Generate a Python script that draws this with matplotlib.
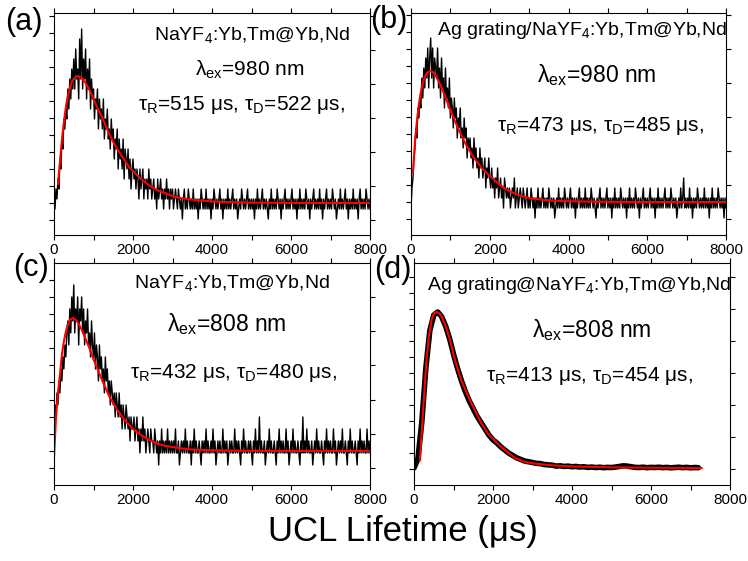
import numpy as np
import matplotlib
matplotlib.use('Agg')
import matplotlib.pyplot as plt
from matplotlib.ticker import MultipleLocator

plt.rcParams['font.family'] = ['Liberation Sans', 'DejaVu Sans']
plt.rcParams['mathtext.fontset'] = 'custom'
plt.rcParams['mathtext.rm'] = 'Liberation Sans'
plt.rcParams['mathtext.default'] = 'regular'

# photon counts, one bin every 25 us from 0 to 8000 us
dt = 25
counts_a = [3, 2, 4, 3, 5, 4, 7, 6, 9, 8, 11, 10, 12, 11, 14, 12, 15, 13, 16, 14,
            17, 14, 18, 15, 16, 13, 19, 15, 20, 14, 17, 15, 18, 13, 16, 14, 17, 12, 15, 13,
            14, 11, 13, 12, 14, 10, 13, 11, 12, 10, 13, 9, 11, 10, 12, 9, 10, 8, 11, 9,
            10, 7, 9, 8, 10, 6, 9, 7, 8, 6, 9, 5, 8, 7, 6, 8, 5, 7, 4, 6,
            7, 5, 6, 4, 6, 5, 3, 6, 4, 5, 6, 3, 5, 4, 5, 3, 6, 4, 5, 3,
            4, 5, 3, 4, 2, 5, 3, 4, 5, 3, 4, 2, 4, 3, 5, 3, 4, 2, 4, 3,
            4, 2, 3, 4, 3, 2, 4, 3, 2, 3, 1, 3, 4, 2, 3, 2, 4, 3, 2, 3,
            2, 4, 2, 3, 2, 3, 1, 3, 2, 4, 3, 2, 3, 2, 4, 2, 3, 2, 3, 1,
            3, 2, 4, 3, 2, 3, 2, 3, 4, 2, 3, 1, 3, 2, 3, 2, 4, 2, 3, 2,
            3, 4, 2, 3, 2, 3, 1, 2, 3, 2, 4, 3, 2, 3, 2, 3, 4, 2, 3, 2,
            3, 2, 3, 1, 3, 2, 4, 2, 3, 2, 3, 4, 2, 3, 2, 3, 2, 1, 3, 2,
            4, 2, 3, 2, 3, 2, 4, 3, 2, 3, 1, 3, 2, 3, 4, 2, 3, 2, 3, 2,
            3, 4, 2, 3, 2, 3, 1, 3, 2, 4, 2, 3, 2, 3, 2, 4, 3, 2, 3, 1,
            3, 2, 3, 4, 2, 3, 2, 3, 2, 4, 2, 3, 1, 3, 2, 3, 4, 2, 3, 2,
            3, 2, 4, 3, 2, 3, 1, 2, 3, 2, 4, 2, 3, 2, 3, 4, 2, 3, 1, 3,
            2, 3, 2, 4, 2, 3, 2, 3, 1, 3, 4, 2, 3, 2, 3, 2, 4, 3, 2, 3,
            2]
counts_b = [2, 4, 5, 7, 8, 10, 9, 12, 11, 13, 12, 15, 13, 16, 14, 17, 15, 18, 14, 17,
            19, 15, 18, 14, 17, 16, 15, 18, 14, 16, 13, 17, 14, 15, 12, 16, 13, 14, 12, 15,
            11, 13, 12, 10, 13, 11, 12, 9, 11, 10, 12, 9, 10, 8, 11, 9, 10, 7, 9, 8,
            9, 7, 8, 6, 9, 7, 8, 6, 7, 5, 8, 6, 7, 5, 6, 7, 4, 6, 5, 7,
            5, 4, 6, 4, 5, 3, 5, 4, 6, 3, 4, 5, 3, 4, 2, 5, 4, 3, 4, 3,
            4, 2, 3, 4, 3, 5, 2, 3, 4, 2, 3, 4, 3, 2, 4, 3, 2, 3, 4, 2,
            3, 2, 4, 3, 2, 3, 1, 3, 2, 4, 2, 3, 2, 3, 4, 2, 3, 2, 3, 2,
            4, 3, 2, 3, 2, 3, 1, 2, 3, 2, 4, 2, 3, 2, 3, 2, 4, 3, 2, 3,
            2, 3, 4, 2, 3, 2, 3, 1, 3, 2, 3, 4, 2, 3, 2, 3, 2, 4, 2, 3,
            2, 3, 2, 4, 3, 2, 3, 2, 1, 3, 2, 3, 4, 2, 3, 2, 3, 2, 3, 4,
            2, 3, 2, 3, 1, 3, 2, 4, 2, 3, 2, 3, 2, 4, 3, 2, 3, 2, 3, 1,
            3, 2, 4, 2, 3, 2, 3, 2, 4, 3, 2, 3, 1, 3, 2, 3, 4, 2, 3, 2,
            3, 2, 3, 4, 2, 3, 2, 3, 1, 3, 2, 4, 2, 3, 2, 3, 2, 3, 4, 2,
            3, 2, 3, 2, 4, 3, 2, 3, 2, 3, 1, 2, 3, 2, 4, 2, 3, 5, 2, 3,
            2, 3, 2, 4, 2, 3, 1, 3, 2, 3, 2, 4, 3, 2, 3, 2, 3, 2, 4, 2,
            3, 2, 3, 1, 3, 2, 4, 2, 3, 2, 3, 2, 4, 3, 2, 3, 2, 3, 1, 3,
            2]
counts_c = [5, 6, 5, 7, 6, 8, 7, 9, 8, 10, 9, 11, 10, 12, 13, 11, 14, 12, 15, 13,
            16, 12, 14, 13, 15, 11, 14, 13, 15, 12, 14, 11, 13, 12, 14, 11, 12, 10, 13, 11,
            10, 12, 9, 11, 10, 8, 11, 9, 10, 8, 9, 7, 10, 8, 9, 7, 8, 6, 8, 7,
            6, 7, 5, 7, 6, 5, 7, 5, 6, 4, 6, 5, 4, 6, 5, 4, 5, 3, 5, 4,
            4, 5, 3, 4, 5, 3, 4, 2, 4, 3, 5, 3, 4, 2, 3, 4, 3, 2, 4, 3,
            3, 2, 4, 3, 2, 3, 1, 3, 2, 4, 2, 3, 2, 3, 2, 4, 2, 3, 2, 3,
            2, 3, 2, 4, 2, 2, 3, 1, 2, 3, 2, 3, 2, 4, 2, 3, 2, 2, 3, 1,
            3, 2, 4, 2, 3, 2, 2, 3, 2, 1, 3, 2, 3, 2, 4, 2, 3, 2, 2, 3,
            2, 4, 2, 3, 1, 2, 3, 2, 3, 2, 2, 4, 2, 3, 2, 3, 1, 2, 3, 2,
            3, 2, 2, 4, 2, 3, 2, 3, 2, 1, 3, 2, 4, 2, 3, 2, 2, 3, 2, 3,
            2, 1, 3, 2, 4, 2, 3, 2, 5, 2, 3, 2, 2, 3, 1, 2, 3, 2, 4, 2,
            3, 2, 2, 3, 2, 1, 3, 2, 4, 2, 3, 2, 3, 2, 2, 4, 2, 3, 1, 2,
            3, 2, 4, 2, 3, 2, 2, 3, 2, 1, 3, 2, 5, 2, 3, 2, 4, 2, 3, 2,
            2, 3, 1, 2, 3, 2, 4, 2, 3, 2, 2, 3, 2, 1, 3, 2, 4, 2, 3, 2,
            3, 2, 2, 4, 2, 3, 1, 2, 3, 2, 3, 2, 4, 2, 2, 3, 2, 1, 3, 2,
            4, 2, 3, 2, 2, 3, 2, 1, 3, 2, 4, 2, 3, 2, 3, 2, 2, 4, 2, 3,
            2]

# fitted curves
fit_t_a = [100, 150, 200, 250, 300, 350, 400, 450, 500, 550, 600, 650, 700, 800, 900,
           1000, 1100, 1200, 1300, 1400, 1500, 1600, 1700, 1800, 1900, 2000, 2200,
           2400, 2600, 2800, 3000, 3200, 3400, 3600, 4000, 4500, 5000, 6000, 7000, 8000]
fit_a = [4.5, 6.7, 8.9, 10.7, 12.2, 13.3, 14.1, 14.7, 15.0, 15.2, 15.3, 15.2, 15.1, 14.6, 13.9,
         13.0, 12.1, 11.3, 10.4, 9.5, 8.7, 8.0, 7.4, 6.8, 6.2, 5.8, 5.0,
         4.4, 3.9, 3.6, 3.3, 3.1, 3.0, 2.9, 2.75, 2.68, 2.64, 2.61, 2.6, 2.6]
fit_t_b = [50, 100, 150, 200, 250, 300, 350, 400, 480, 550, 600, 700, 800, 900, 1000,
           1200, 1400, 1600, 1800, 2000, 2200, 2400, 2600, 2800, 3000, 3400, 3800,
           4400, 5000, 6000, 7000, 8000]
fit_b = [5.6, 8.6, 10.7, 12.4, 13.6, 14.5, 15.1, 15.5, 15.7, 15.6, 15.4, 14.7, 13.8, 12.8, 11.8,
         9.9, 8.3, 7.0, 6.0, 5.2, 4.5, 3.9, 3.5, 3.2, 3.0, 2.8, 2.7,
         2.65, 2.62, 2.6, 2.6, 2.6]
fit_t_c = [0, 50, 100, 150, 200, 250, 300, 350, 400, 470, 550, 600, 700, 800, 900,
           1000, 1200, 1400, 1600, 1800, 2000, 2200, 2400, 2600, 2800, 3000, 3400,
           3800, 4400, 5000, 6000, 7000, 8000]
fit_c = [1.6, 5.0, 7.0, 8.5, 10.2, 11.3, 12.1, 12.7, 13.1, 13.25, 13.1, 12.9, 12.3, 11.5, 10.7,
         9.8, 8.2, 6.7, 5.6, 4.7, 4.0, 3.5, 3.1, 2.8, 2.6, 2.5, 2.3,
         2.25, 2.2, 2.18, 2.17, 2.17, 2.17]

# panel (d): normalised intensity, one point every 100 us
dt_d = 100
signal_d = [0.00, 0.06, 0.30, 0.64, 0.88, 0.98, 1.00, 0.97, 0.91, 0.83,
            0.73, 0.64, 0.56, 0.49, 0.43, 0.38, 0.33, 0.29, 0.25, 0.21,
            0.18, 0.16, 0.135, 0.115, 0.095, 0.08, 0.065, 0.055, 0.045, 0.04,
            0.035, 0.03, 0.028, 0.022, 0.02, 0.018, 0.012, 0.014, 0.01, 0.012,
            0.008, 0.01, 0.006, 0.008, 0.004, 0.006, 0.003, 0.005, 0.002, 0.004,
            0.003, 0.006, 0.01, 0.014, 0.012, 0.008, 0.004, 0.003, 0.005, 0.002,
            0.004, 0.003, 0.005, 0.002, 0.004, 0.001, 0.003, 0.005, 0.002, 0.004,
            0.001, 0.003, 0.002]
fit_t_d = [150, 200, 235, 280, 320, 380, 446, 500, 573, 650, 700, 800, 900, 1038, 1200,
           1460, 1700, 1873, 2100, 2300, 2557, 2800, 3000, 3500, 4000, 5000, 6000, 7280]
fit_d = [0.05, 0.25, 0.39, 0.56, 0.71, 0.85, 0.95, 0.99, 1.0, 0.99, 0.97, 0.91, 0.83, 0.69, 0.56,
         0.41, 0.29, 0.22, 0.16, 0.115, 0.064, 0.04, 0.03, 0.017, 0.01, 0.004, 0.002, 0.0]

labels = ['(a)', '(b)', '(c)', '(d)']
samples = ['NaYF$_4$:Yb,Tm@Yb,Nd', 'Ag grating/NaYF$_4$:Yb,Tm@Yb,Nd',
           'NaYF$_4$:Yb,Tm@Yb,Nd', 'Ag grating@NaYF$_4$:Yb,Tm@Yb,Nd']
excitation = ['λ$_{ex}$=980 nm', 'λ$_{ex}$=980 nm', 'λ$_{ex}$=808 nm', 'λ$_{ex}$=808 nm']
lifetimes = ['τ$_R$=515 μs, τ$_D$=522 μs,', 'τ$_R$=473 μs, τ$_D$=485 μs,',
             'τ$_R$=432 μs, τ$_D$=480 μs,', 'τ$_R$=413 μs, τ$_D$=454 μs,']

W, H = 748.0, 561.0
fig = plt.figure(figsize=(7.48, 5.61), dpi=100)

# pixel boxes: left, right, top, bottom
boxes = [(54, 370, 13, 235), (411, 726, 13, 235), (54, 370, 263, 485), (414, 730, 263, 485)]
ylims = [(-0.6, 21.6), (-0.7, 21.5), (-0.67, 17.83), (-0.109, 1.314)]
ytick0 = [0.9, 0.87, 0.75, -0.008]
ytickstep = [1.7, 1.7, 1.425, 0.1026]
# text positions (axes fraction) and sizes
pos_sample = [(0.627, 0.90), (0.543, 0.92), (0.563, 0.91), (0.522, 0.90)]
pos_exc = [(0.62, 0.743), (0.59, 0.72), (0.547, 0.725), (0.563, 0.70)]
size_exc = [15, 16.5, 16.5, 16.5]
pos_life = [(0.594, 0.585), (0.601, 0.49), (0.567, 0.505), (0.557, 0.49)]
pos_label = [(24, 22), (389, 20), (31, 268), (393, 270)]

traces = [counts_a, counts_b, counts_c]
fits = [(fit_t_a, fit_a), (fit_t_b, fit_b), (fit_t_c, fit_c), (fit_t_d, fit_d)]

for i in range(4):
    l, r, t, b = boxes[i]
    ax = fig.add_axes([l / W, 1 - b / H, (r - l) / W, (b - t) / H])

    if i < 3:
        ax.plot(np.arange(len(traces[i])) * dt, traces[i], color='black', lw=1.0)
    else:
        ax.plot(np.arange(len(signal_d)) * dt_d, signal_d, color='black', lw=4,
                solid_capstyle='round')
    ax.plot(fits[i][0], fits[i][1], color='red', lw=1.5)

    ax.set_xlim(0, 8000)
    ax.set_ylim(*ylims[i])
    ax.xaxis.set_major_locator(MultipleLocator(2000))
    ax.xaxis.set_minor_locator(MultipleLocator(1000))
    ax.set_yticks(np.arange(ytick0[i], ylims[i][1], 2 * ytickstep[i]))
    ax.set_yticks(np.arange(ytick0[i] + ytickstep[i], ylims[i][1], 2 * ytickstep[i]),
                  minor=True)
    ax.set_yticklabels([])
    ax.tick_params(which='both', direction='out', top=True, right=True, labelsize=11,
                   pad=2, width=0.8, length=3.5)
    ax.tick_params(axis='y', which='minor', right=False)
    ax.xaxis.set_major_formatter(plt.FuncFormatter(lambda v, p: '%d' % v))

    ax.text(*pos_sample[i], samples[i], transform=ax.transAxes, ha='center', va='center',
            fontsize=14)
    ax.text(*pos_exc[i], excitation[i], transform=ax.transAxes, ha='center', va='center',
            fontsize=size_exc[i])
    ax.text(*pos_life[i], lifetimes[i], transform=ax.transAxes, ha='center', va='center',
            fontsize=15)
    fig.text(pos_label[i][0] / W, 1 - pos_label[i][1] / H, labels[i], ha='center',
             va='center', fontsize=22)

fig.text(403 / W, 1 - 532 / H, 'UCL Lifetime (μs)', ha='center', va='center', fontsize=25)

fig.savefig('out.png', dpi=100)
